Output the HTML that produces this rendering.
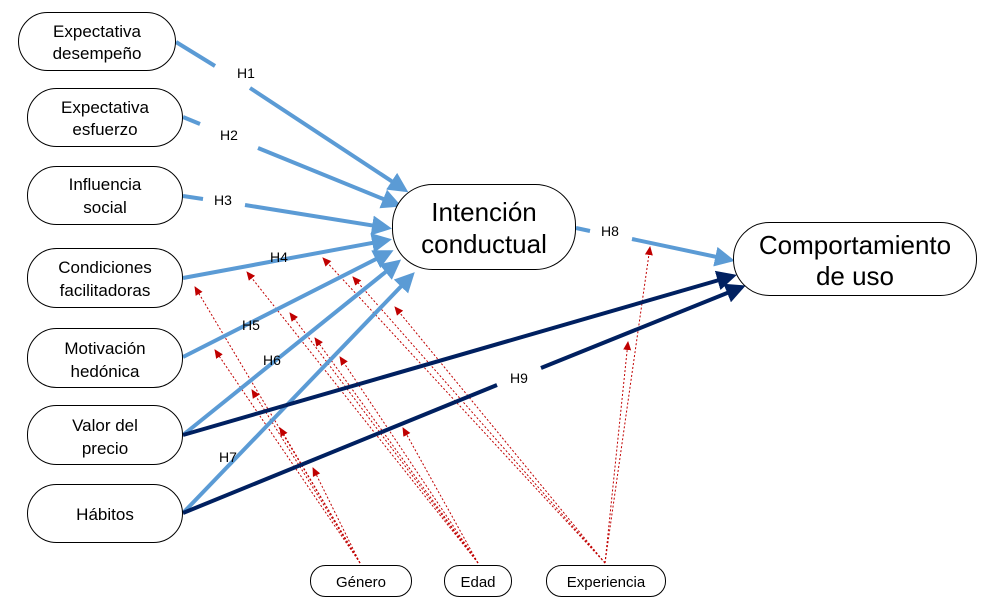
<!DOCTYPE html>
<html><head><meta charset="utf-8"><style>
body{margin:0;background:#fff}
svg{display:block;font-family:"Liberation Sans",sans-serif}
</style></head><body>
<svg width="985" height="612" viewBox="0 0 985 612">
<defs>
<marker id="lb" markerWidth="5" markerHeight="5" refX="4" refY="2.5" orient="auto" markerUnits="strokeWidth"><path d="M0,0L5,2.5L0,5z" fill="#5B9BD5"/></marker>
<marker id="db" markerWidth="5" markerHeight="5" refX="4" refY="2.5" orient="auto" markerUnits="strokeWidth"><path d="M0,0L5,2.5L0,5z" fill="#002060"/></marker>
<marker id="rd" markerWidth="10" markerHeight="10" refX="8" refY="4" orient="auto" markerUnits="userSpaceOnUse"><path d="M0,0L9,4L0,8z" fill="#C00000"/></marker>
</defs>
<g stroke="#C00000" stroke-width="1" stroke-dasharray="2,2" fill="none" marker-end="url(#rd)">
<line x1="360" y1="563" x2="195" y2="287"/>
<line x1="360" y1="563" x2="215" y2="350"/>
<line x1="360" y1="563" x2="252" y2="390"/>
<line x1="360" y1="563" x2="280" y2="428"/>
<line x1="360" y1="563" x2="313" y2="468"/>
<line x1="478" y1="563" x2="247" y2="272"/>
<line x1="478" y1="563" x2="290" y2="313"/>
<line x1="478" y1="563" x2="315" y2="338"/>
<line x1="478" y1="563" x2="340" y2="357"/>
<line x1="478" y1="563" x2="403" y2="428"/>
<line x1="605" y1="563" x2="323" y2="258"/>
<line x1="605" y1="563" x2="353" y2="277"/>
<line x1="605" y1="563" x2="395" y2="307"/>
<line x1="605" y1="563" x2="628" y2="342"/>
<line x1="605" y1="563" x2="650" y2="247"/>
</g>
<g stroke="#5B9BD5" stroke-width="4" fill="none">
<line x1="176" y1="42" x2="215" y2="66"/>
<line x1="250" y1="88" x2="405" y2="190" marker-end="url(#lb)"/>
<line x1="183" y1="117" x2="200" y2="124"/>
<line x1="258" y1="148" x2="398" y2="205" marker-end="url(#lb)"/>
<line x1="183" y1="196" x2="203" y2="199"/>
<line x1="245" y1="205" x2="388" y2="228" marker-end="url(#lb)"/>
<line x1="183" y1="278" x2="388" y2="240" marker-end="url(#lb)"/>
<line x1="183" y1="357" x2="390" y2="252" marker-end="url(#lb)"/>
<line x1="183" y1="435" x2="398" y2="262" marker-end="url(#lb)"/>
<line x1="183" y1="513" x2="412" y2="275" marker-end="url(#lb)"/>
<line x1="576" y1="228" x2="590" y2="231"/>
<line x1="632" y1="239" x2="731" y2="260" marker-end="url(#lb)"/>
</g>
<g stroke="#002060" stroke-width="4" fill="none">
<line x1="183" y1="435" x2="733" y2="276" marker-end="url(#db)"/>
<line x1="183" y1="513" x2="497" y2="385"/>
<line x1="541" y1="368" x2="742" y2="287" marker-end="url(#db)"/>
</g>
<g font-size="14" fill="#000">
<text x="237" y="78">H1</text><text x="220" y="140">H2</text><text x="214" y="205">H3</text>
<text x="270" y="262">H4</text><text x="242" y="330">H5</text><text x="263" y="365">H6</text>
<text x="219" y="462">H7</text><text x="601" y="236">H8</text><text x="510" y="383">H9</text>
</g>
<g fill="#fff" stroke="#000" stroke-width="1">
<rect x="18.5" y="12.5" width="157" height="58" rx="29"/>
<rect x="27.5" y="88.5" width="155" height="58" rx="29"/>
<rect x="27.5" y="166.5" width="155" height="58" rx="29"/>
<rect x="27.5" y="248.5" width="155" height="59" rx="29"/>
<rect x="27.5" y="328.5" width="155" height="59" rx="29"/>
<rect x="27.5" y="405.5" width="155" height="59" rx="29"/>
<rect x="27.5" y="484.5" width="155" height="58" rx="29"/>
<rect x="392.5" y="184.5" width="183" height="85" rx="40"/>
<rect x="733.5" y="222.5" width="243" height="73" rx="36"/>
<rect x="310.5" y="565.5" width="101" height="31" rx="15"/>
<rect x="444.5" y="565.5" width="67" height="31" rx="15"/>
<rect x="546.5" y="565.5" width="119" height="31" rx="15"/>
</g>
<g font-size="17" fill="#000" text-anchor="middle">
<text x="97" y="37">Expectativa</text><text x="97" y="59">desempeño</text>
<text x="105" y="113">Expectativa</text><text x="105" y="135">esfuerzo</text>
<text x="105" y="190">Influencia</text><text x="105" y="213">social</text>
<text x="105" y="273">Condiciones</text><text x="105" y="296">facilitadoras</text>
<text x="105" y="354">Motivación</text><text x="105" y="377">hedónica</text>
<text x="105" y="431">Valor del</text><text x="105" y="454">precio</text>
<text x="105" y="520">Hábitos</text>
<text x="484" y="221" font-size="26">Intención</text><text x="484" y="253" font-size="26">conductual</text>
<text x="855" y="254" font-size="26">Comportamiento</text><text x="855" y="285" font-size="26">de uso</text>
<text x="361" y="587" font-size="15">Género</text>
<text x="478" y="587" font-size="15">Edad</text>
<text x="606" y="587" font-size="15">Experiencia</text>
</g>
</svg>
</body></html>
